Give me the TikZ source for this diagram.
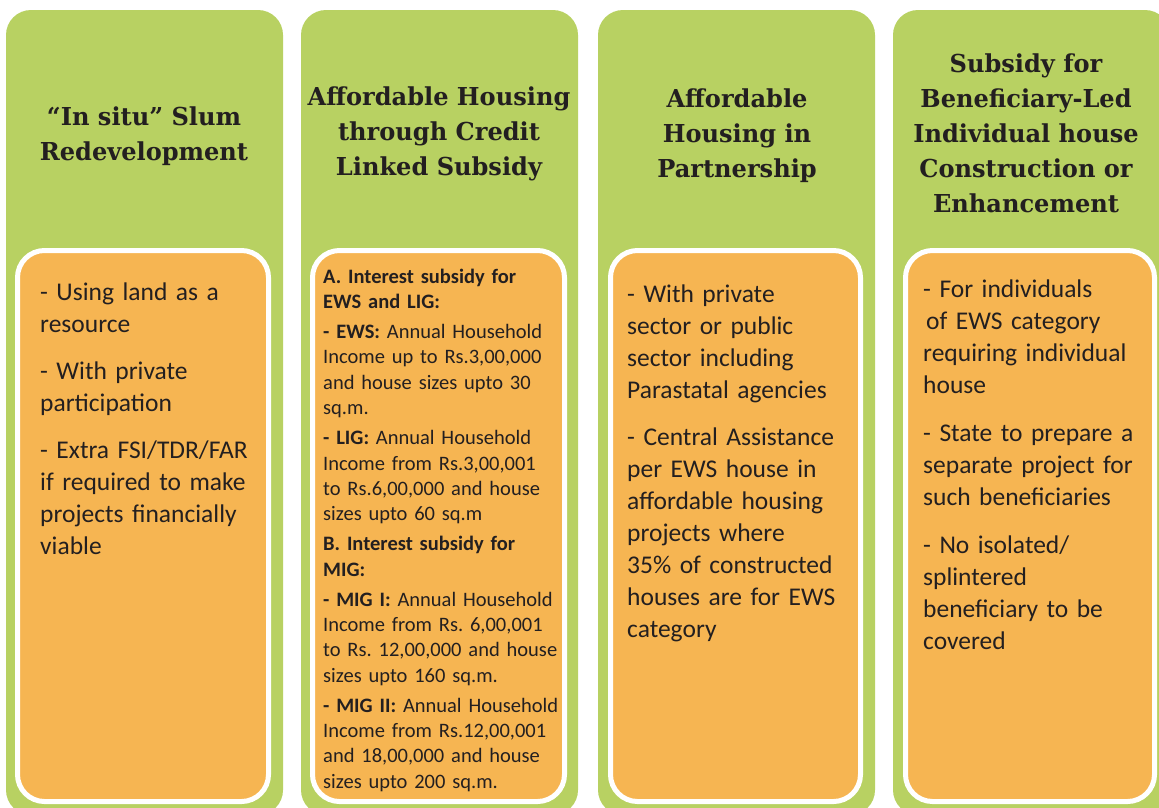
\documentclass[tikz,border=0pt]{standalone}
\usepackage{fontspec}
\newfontfamily\bodyfont{Carlito}
\newfontfamily\headfont[FakeStretch=0.975]{DejaVu Serif}
\definecolor{grn}{HTML}{B8D162}
\definecolor{org}{HTML}{F6B552}
\definecolor{ink}{HTML}{231F20}
\frenchspacing
\begin{document}
\begin{tikzpicture}[x=1pt,y=-1pt,
  col/.style={fill=grn, rounded corners=25pt},
  box/.style={fill=org, draw=white, line width=5pt, rounded corners=27pt},
  head/.style={align=center, font=\headfont\bfseries\fontsize{24.7}{35}\selectfont, text=ink, inner sep=0pt, anchor=north},
  body/.style={align=left, text width=262pt, font=\bodyfont\fontsize{25.5}{32}\selectfont, text=ink, inner sep=0pt, anchor=north west},
  small/.style={body, font=\bodyfont\fontsize{20.5}{25.4}\selectfont}
]
\fill[white] (0,0) rectangle (1159,807);
\useasboundingbox (0,0) rectangle (1159,807);
\clip (0,0) rectangle (1159,807);
% green columns
\fill[col] (6,10) rectangle (283,815);
\fill[col] (301,10) rectangle (578,815);
\fill[col] (598,10) rectangle (875,815);
\fill[col] (893,10) rectangle (1170,815);
% orange boxes
\filldraw[box] (17.5,250.5) rectangle (268.5,801.5);
\filldraw[box] (312.5,250.5) rectangle (564.5,801.5);
\filldraw[box] (610.5,250.5) rectangle (860.5,801.5);
\filldraw[box] (905.5,250.5) rectangle (1154.5,801.5);
% headers
\node[head] (h1) at (144,103) {\rule{0pt}{22pt}“In situ” Slum\\Redevelopment};
\node[head] (h2) at (439,83) {\rule{0pt}{22pt}Affordable Housing\\through Credit\\Linked Subsidy};
\node[head] (h3) at (737,85) {\rule{0pt}{22pt}Affordable\\Housing in\\Partnership};
\node[head] (h4) at (1026,50) {\rule{0pt}{22pt}Subsidy for\\Beneficiary-Led\\Individual house\\Construction or\\Enhancement};
% bodies
\node[body] (b1) at (40,278) {\rule{0pt}{22pt}- Using land as a\\resource\\[15pt]- With private\\participation\\[15pt]- Extra FSI/TDR/FAR\\if required to make\\projects financially\\viable};
\node[small] (b2) at (323,266) {\rule{0pt}{17pt}\textbf{A. Interest subsidy for}\\\textbf{EWS and LIG:}\\[4.5pt]%
\textbf{- EWS:} Annual Household\\Income up to Rs.3,00,000\\and house sizes upto 30\\sq.m.\\[4.5pt]%
\textbf{- LIG:} Annual Household\\Income from Rs.3,00,001\\to Rs.6,00,000 and house\\sizes upto 60 sq.m\\[4.5pt]%
\textbf{B. Interest subsidy for}\\\textbf{MIG:}\\[4.5pt]%
\textbf{- MIG I:} Annual Household\\Income from Rs. 6,00,001\\to Rs. 12,00,000 and house\\sizes upto 160 sq.m.\\[4.5pt]%
\textbf{- MIG II:} Annual Household\\Income from Rs.12,00,001\\and 18,00,000 and house\\sizes upto 200 sq.m.};
\node[body] (b3) at (627,280) {\rule{0pt}{22pt}- With private\\sector or public\\sector including\\Parastatal agencies\\[15pt]- Central Assistance\\per EWS house in\\affordable housing\\projects where\\35\% of constructed\\houses are for EWS\\category};
\node[body] (b4) at (923,275) {\rule{0pt}{22pt}- For individuals\\\hspace*{3pt}of EWS category\\requiring individual\\house\\[16pt]- State to prepare a\\separate project for\\such beneficiaries\\[16pt]- No isolated/\\splintered\\beneficiary to be\\covered};
\end{tikzpicture}
\end{document}
